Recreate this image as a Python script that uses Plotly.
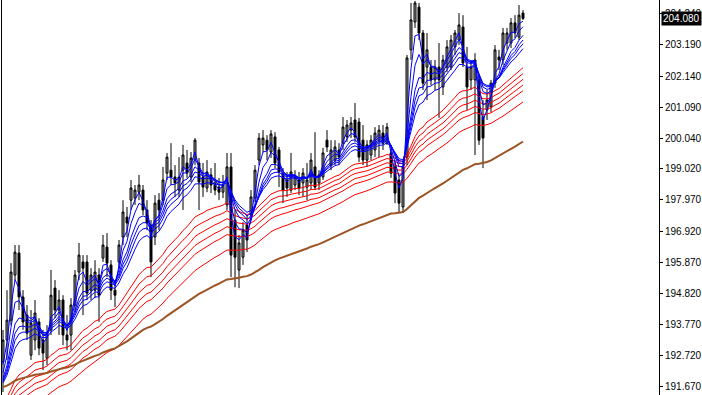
import plotly.graph_objects as go

# ---- candle data (bar index, OHLC) ----
opens = [192.51,193.25,193.92,195.44,196.18,194.70,194.09,192.74,193.25,193.86,
         193.25,192.64,193.59,195.00,194.26,194.60,193.42,193.42,194.43,195.54,
         195.88,195.88,194.93,194.93,195.44,196.01,196.38,195.78,194.93,195.88,
         196.72,197.39,197.96,198.03,198.23,198.30,197.63,197.12,196.72,197.96,
         197.96,198.87,198.97,198.74,198.30,198.97,199.21,198.74,199.31,199.21,
         198.74,198.37,198.81,198.54,198.40,198.23,197.80,199.08,197.29,195.61,
         196.04,197.12,197.46,198.03,199.31,199.82,199.98,199.58,200.09,199.65,
         198.87,198.64,198.30,198.47,198.64,198.54,198.40,198.54,199.08,198.54,
         198.74,199.98,199.14,199.31,199.65,199.88,200.09,200.32,200.66,200.59,
         199.98,199.31,199.48,199.65,199.98,200.22,199.88,199.55,199.08,198.64,
         197.73,199.41,203.02,203.96,204.46,203.59,202.44,202.44,202.01,202.44,
         201.77,202.44,202.44,203.12,203.35,203.79,202.44,202.01,202.01,202.01,
         200.76,201.00,201.10,201.90,202.78,202.68,203.25,203.25,203.93,203.45,
         204.26]
highs = [193.59,194.93,195.84,196.45,196.45,194.93,194.43,194.26,194.60,193.99,
         193.59,193.75,195.61,195.27,194.93,194.76,194.09,194.66,195.61,196.52,
         196.11,196.11,195.67,195.94,195.67,196.79,196.85,195.94,195.27,196.62,
         197.96,197.73,198.64,198.47,198.81,198.47,197.96,197.29,198.13,198.20,
         199.08,199.55,199.88,199.14,199.41,199.82,199.65,199.58,200.05,199.38,
         199.21,199.31,199.04,199.21,198.71,198.81,199.55,199.55,197.63,196.79,
         197.22,197.46,198.30,199.14,200.22,200.32,200.15,200.32,200.25,199.75,
         199.04,198.91,199.55,198.97,198.91,199.04,199.21,199.55,200.25,198.97,
         199.72,200.32,199.98,199.98,199.88,200.76,200.66,200.76,201.23,200.73,
         200.49,199.98,200.15,200.42,200.49,200.49,200.56,199.82,199.31,198.81,
         199.31,202.85,204.60,204.67,204.60,203.69,203.59,202.68,202.68,203.25,
         202.85,203.35,203.52,203.69,204.26,204.19,203.12,202.61,202.91,202.17,
         201.33,201.67,202.01,203.18,203.02,203.76,203.76,204.09,204.19,204.53,
         204.36]
lows = [191.50,192.58,193.75,195.27,194.26,193.59,193.25,192.58,192.91,192.74,
        192.24,192.41,193.42,193.99,193.42,193.08,192.91,192.91,194.19,195.27,
        194.09,194.60,194.60,194.66,193.86,195.88,195.37,194.60,194.36,195.67,
        196.45,196.72,197.63,197.80,197.96,197.46,196.95,195.37,196.45,196.95,
        197.80,198.64,198.47,198.07,198.07,197.63,198.71,198.57,199.14,197.63,
        198.07,198.23,198.20,198.13,197.96,198.03,197.63,195.37,195.03,195.00,
        195.78,196.21,197.29,197.90,199.14,199.58,199.31,199.38,199.04,198.40,
        197.86,198.07,198.20,198.30,198.13,198.07,197.96,198.30,198.30,198.30,
        198.64,199.58,198.97,199.14,199.14,199.65,199.92,200.05,199.92,199.24,
        199.14,199.08,199.31,199.41,199.41,199.65,199.82,198.71,197.86,197.56,
        197.53,199.14,202.68,203.76,203.35,201.67,201.33,201.84,201.67,200.73,
        201.50,202.27,202.34,202.85,203.18,202.44,201.00,201.67,199.48,199.82,
        199.04,200.66,200.93,201.74,202.34,202.51,203.02,203.08,203.42,203.35,
        204.03]
closes = [193.25,193.92,195.54,196.21,194.70,193.86,193.48,193.82,194.16,192.98,
          192.81,193.48,194.76,194.26,194.60,193.42,193.25,194.43,195.44,196.11,
          195.67,194.83,195.44,195.54,194.76,196.45,195.84,194.93,194.76,196.45,
          197.56,197.19,198.37,198.30,198.47,197.63,197.19,195.88,197.86,197.63,
          198.64,199.41,198.74,198.54,198.74,199.48,198.87,199.38,199.98,198.57,
          198.40,198.91,198.47,198.30,198.23,198.47,199.08,196.11,196.04,196.52,
          196.95,196.62,198.07,198.97,200.05,200.05,199.65,200.19,199.21,198.91,
          198.30,198.37,198.91,198.74,198.37,198.87,198.64,199.31,198.40,198.81,
          199.55,199.75,199.65,199.75,199.41,200.42,200.49,200.56,200.09,199.41,
          199.31,199.82,199.98,200.22,200.32,199.88,200.42,198.87,198.20,197.86,
          199.08,202.75,204.03,204.60,203.59,201.90,203.02,202.01,202.44,202.01,
          202.68,203.12,203.35,203.59,203.86,202.58,201.77,202.44,202.68,199.98,
          200.05,201.33,201.90,203.02,202.68,203.59,203.59,203.93,203.59,204.19,
          204.08]
bars = list(range(len(closes)))

# ---- moving averages (Guppy style) : periods and starting values read at left edge ----
fast_periods = [3, 5, 8, 10, 12, 15]
fast_seeds = [191.6, 191.6, 191.6, 191.6, 191.6, 191.6]
slow_periods = [30, 35, 40, 45, 50, 60]
slow_seeds = [191.0, 190.85, 190.7, 190.55, 190.4, 190.1]
long_period = 100
long_seed = 191.64

# ---- axis ticks ----
tick_vals = [191.67, 192.72, 193.77, 194.82, 195.87, 196.92, 197.97,
             199.02, 200.04, 201.09, 202.14, 203.19, 204.24]
tick_text = ["191.670", "192.720", "193.770", "194.820", "195.870", "196.920", "197.970",
             "199.020", "200.040", "201.090", "202.140", "203.190", "204.240"]
last_price = 204.08


def ema(values, period, seed):
    a = 2.0 / (period + 1)
    out = []
    prev = seed
    for v in values:
        prev = prev + a * (v - prev)
        out.append(prev)
    return out


fig = go.Figure()
fig.add_trace(go.Candlestick(
    x=bars, open=opens, high=highs, low=lows, close=closes,
    increasing=dict(line=dict(color="#000000", width=1), fillcolor="#9a9a9a"),
    decreasing=dict(line=dict(color="#000000", width=1), fillcolor="#000000"),
    hoverinfo="skip", showlegend=False,
))
for p, s in zip(slow_periods, slow_seeds):
    fig.add_trace(go.Scatter(x=bars, y=ema(closes, p, s), mode="lines",
                             line=dict(color="#ff0000", width=1), hoverinfo="skip",
                             showlegend=False))
for p, s in zip(fast_periods, fast_seeds):
    fig.add_trace(go.Scatter(x=bars, y=ema(closes, p, s), mode="lines",
                             line=dict(color="#0000ff", width=1), hoverinfo="skip",
                             showlegend=False))
fig.add_trace(go.Scatter(x=bars, y=ema(closes, long_period, long_seed), mode="lines",
                         line=dict(color="#9c5424", width=2), hoverinfo="skip",
                         showlegend=False))

fig.update_layout(
    width=702, height=395,
    margin=dict(l=2, r=43, t=0, b=0),
    paper_bgcolor="white", plot_bgcolor="white",
    showlegend=False,
    xaxis=dict(range=[-0.25, 164.0], visible=False, rangeslider=dict(visible=False),
               fixedrange=True),
    yaxis=dict(range=[191.40, 204.70], side="right", tickmode="array",
               tickvals=tick_vals, ticktext=tick_text, showgrid=False, zeroline=False,
               showline=True, linecolor="#000000", linewidth=1, mirror=True,
               ticks="outside", ticklen=3, tickcolor="#000000",
               tickfont=dict(family="Liberation Sans", size=10, color="#000000")),
    annotations=[dict(x=1, xref="paper", y=last_price, yref="y", xanchor="left",
                      yanchor="middle", xshift=2, text=f"{last_price:.3f}", showarrow=False,
                      bgcolor="#000000", borderpad=1,
                      font=dict(family="Liberation Sans", size=10, color="#ffffff"))],
)

fig.write_html("out.html")
